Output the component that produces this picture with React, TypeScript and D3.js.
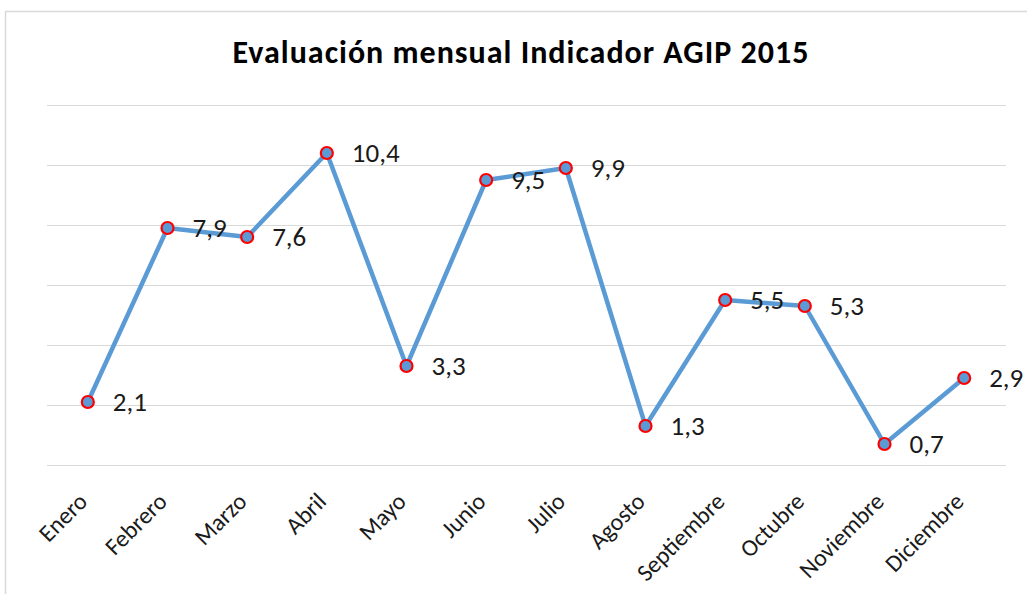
import React, { useEffect, useRef } from "react";
import * as d3 from "d3";

const months = ["Enero", "Febrero", "Marzo", "Abril", "Mayo", "Junio", "Julio", "Agosto", "Septiembre", "Octubre", "Noviembre", "Diciembre"];
const values = [2.1, 7.9, 7.6, 10.4, 3.3, 9.5, 9.9, 1.3, 5.5, 5.3, 0.7, 2.9];
const yTicks = [0, 2, 4, 6, 8, 10, 12];

const App = () => {
  const svgRef = useRef<SVGSVGElement>(null);

  useEffect(() => {
    document.body.style.margin = "0";
    const w = 1027;
    const h = 594;
    const margin = { top: 105, right: 23, bottom: 129, left: 48 };
    const font = "Carlito, 'Open Sans', sans-serif";

    const svg = d3.select(svgRef.current).attr("width", w).attr("height", h).style("background", "#fff").style("display", "block");
    svg.selectAll("*").remove();

    // chart frame
    svg.append("rect").attr("x", 5.5).attr("y", 11.5).attr("width", w + 10).attr("height", h + 10)
      .attr("fill", "none").attr("stroke", "#d9d9d9").attr("stroke-width", 1.5);

    const x = d3.scaleBand().domain(months).range([margin.left, w - margin.right]);
    const y = d3.scaleLinear().domain([0, 12]).range([h - margin.bottom, margin.top]);

    svg.append("text").attr("x", 521).attr("y", 63).attr("text-anchor", "middle")
      .attr("font-family", font).attr("font-weight", "bold").attr("font-size", 32)
      .attr("letter-spacing", 1).attr("fill", "#000")
      .text("Evaluación mensual Indicador AGIP 2015");

    // gridlines
    svg.append("g").selectAll("line").data(yTicks).enter().append("line")
      .attr("x1", margin.left - 1).attr("x2", w - margin.right + 2)
      .attr("y1", (d) => Math.round(y(d)) + 0.5).attr("y2", (d) => Math.round(y(d)) + 0.5)
      .attr("stroke", "#d9d9d9").attr("stroke-width", 1);

    const cx = (d: string) => (x(d) as number) + x.bandwidth() / 2;

    // x labels
    svg.append("g").selectAll("text").data(months).enter().append("text")
      .attr("transform", (d) => `translate(${cx(d) - 5},${h - margin.bottom + 32}) rotate(-45)`)
      .attr("text-anchor", "end").attr("dy", "0.35em")
      .attr("font-family", font).attr("font-size", 24).attr("fill", "#1a1a1a")
      .text((d) => d);

    const line = d3.line<number>().x((d, i) => cx(months[i])).y((d) => y(d));
    svg.append("path").datum(values).attr("d", line).attr("fill", "none")
      .attr("stroke", "#5b9bd5").attr("stroke-width", 4.5).attr("stroke-linejoin", "round");

    svg.append("g").selectAll("circle").data(values).enter().append("circle")
      .attr("cx", (d, i) => cx(months[i])).attr("cy", (d) => y(d)).attr("r", 6)
      .attr("fill", "#5b9bd5").attr("stroke", "#ff0000").attr("stroke-width", 2.2);

    svg.append("g").selectAll("text").data(values).enter().append("text")
      .attr("x", (d, i) => cx(months[i]) + 25).attr("y", (d) => y(d)).attr("dy", "0.35em")
      .attr("font-family", font).attr("font-size", 27).attr("fill", "#1a1a1a")
      .text((d) => d3.format(".1f")(d).replace(".", ","));
  }, []);

  return <svg ref={svgRef}></svg>;
};

export default App;
